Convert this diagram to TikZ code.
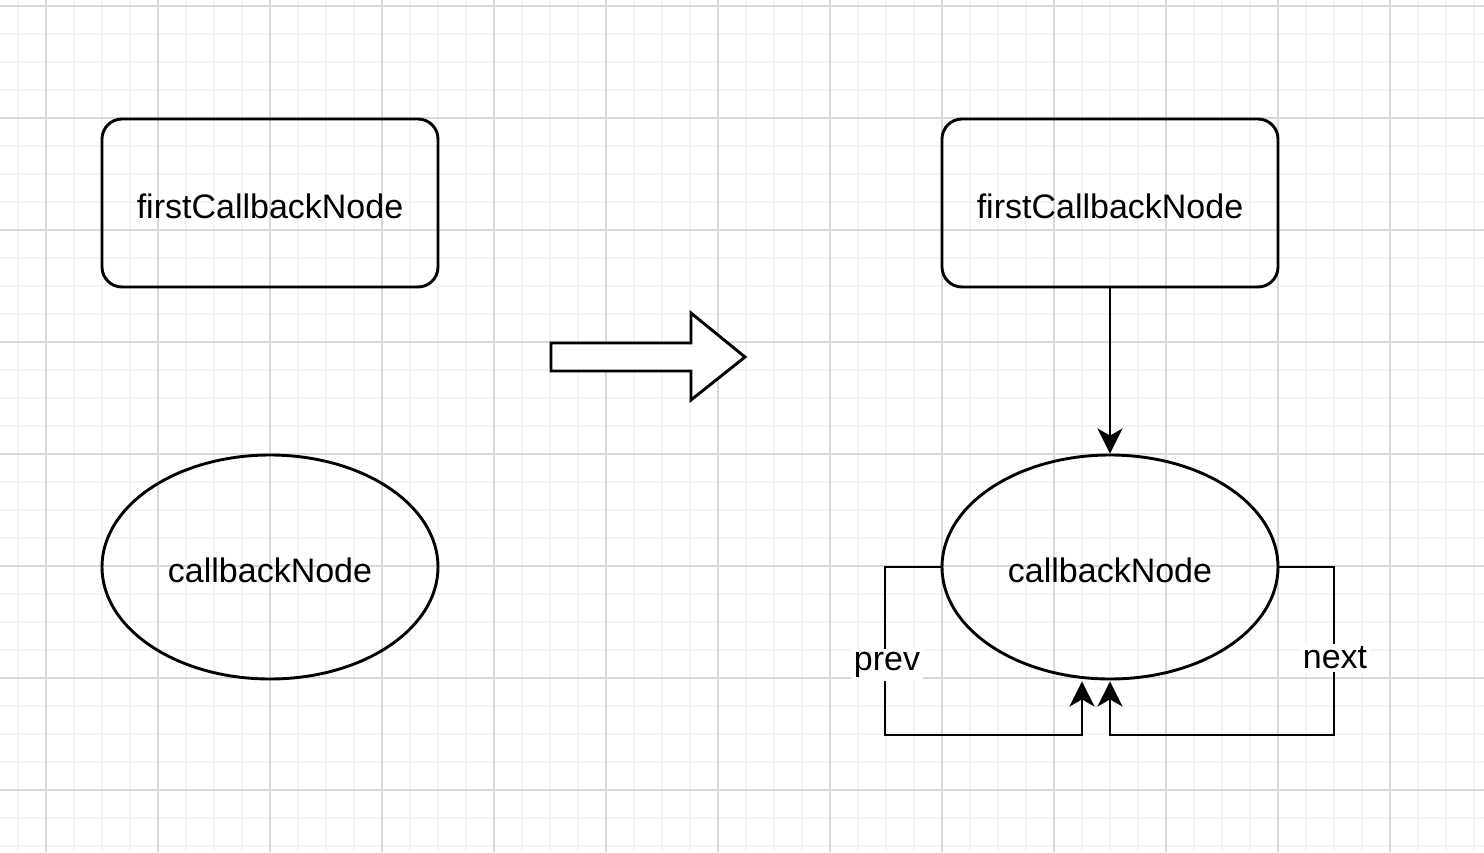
\documentclass[tikz,border=0pt]{standalone}
\usepackage{fontspec}
\setmainfont{Liberation Sans}
\usetikzlibrary{shapes.geometric,arrows.meta,calc}
\definecolor{gridminor}{RGB}{244,244,244}
\definecolor{gridmajor}{RGB}{216,216,216}
\begin{document}
\begin{tikzpicture}[x=1pt,y=-1pt,
  box/.style={draw,line width=2.9pt,rounded corners=20pt,minimum width=336pt,minimum height=168pt,inner sep=0pt,text height=31pt,text depth=0pt,font=\fontsize{34}{40}\selectfont},
  oval/.style={draw,ellipse,line width=2.9pt,minimum width=336pt,minimum height=224pt,inner sep=0pt,text height=31pt,text depth=0pt,font=\fontsize{34}{40}\selectfont},
  conn/.style={line width=2.9pt,-{Stealth[length=25pt,width=25pt,inset=7pt]}},
  lbl/.style={fill=white,inner sep=3pt,font=\fontsize{34}{40}\selectfont}]
\useasboundingbox (0,0) rectangle (1484,852);
\fill[white] (0,0) rectangle (1484,852);
% grid
\foreach \x in {18,46,...,1484} \draw[gridminor,line width=1.1pt] (\x,0) -- (\x,852);
\foreach \y in {6,34,...,852} \draw[gridminor,line width=1.1pt] (0,\y) -- (1484,\y);
\foreach \x in {46,158,...,1484} \draw[gridmajor,line width=1.1pt] (\x,0) -- (\x,852);
\foreach \y in {6,118,...,852} \draw[gridmajor,line width=1.1pt] (0,\y) -- (1484,\y);
% left
\node[box] (f1) at (270,203) {firstCallbackNode};
\node[oval] (c1) at (270,567) {callbackNode};
% block arrow
\draw[line width=2.9pt,fill=white,line join=miter] (551,343) -- (691,343) -- (691,313) -- (745,357) -- (691,400) -- (691,371) -- (551,371) -- cycle;
% right
\node[box] (f2) at (1110,203) {firstCallbackNode};
\node[oval] (c2) at (1110,567) {callbackNode};
\draw[conn] (f2.south) -- (c2.north);
\coordinate (pL) at (885,735);
\coordinate (pR) at (1334,735);
\draw[conn] (c2.west) -| (pL) -| ([xshift=-28pt,yshift=-1pt]c2.south);
\draw[conn] (c2.east) -| (pR) -| ([yshift=-1pt]c2.south);
\node[lbl] (prev) at (887,665) {prev};
\node[lbl] (next) at (1335,658) {next};
\end{tikzpicture}
\end{document}
